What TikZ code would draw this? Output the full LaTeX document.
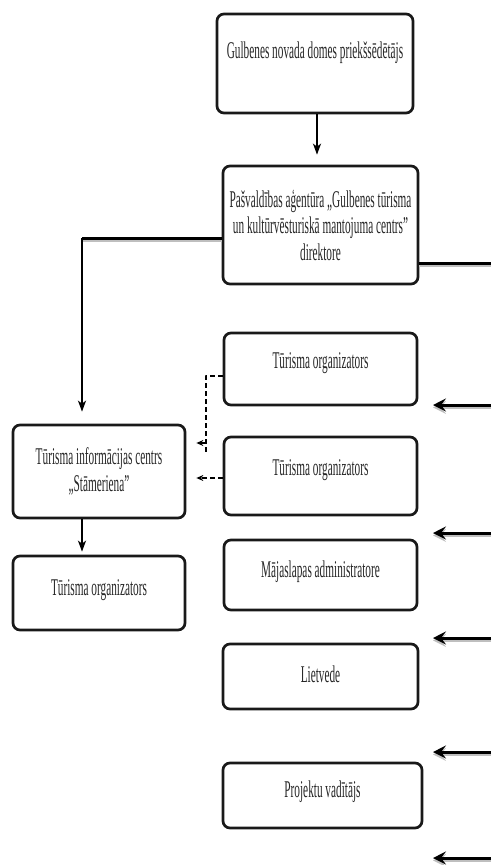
\documentclass[tikz,border=0pt]{standalone}
\usepackage{fontspec}
\setmainfont[FakeStretch=0.47]{Liberation Serif}
\usetikzlibrary{arrows.meta,calc}
\tikzset{
  box/.style={draw=black!90, rounded corners=7pt, line width=2.7pt, align=center, text=black!85,
    font=\fontsize{24}{26.5}\selectfont, inner sep=0pt},
  shad/.style={line width=3pt, line cap=butt,
    preaction={draw=gray!50, line width=3pt, transform canvas={yshift=-2.4pt}}},
  thin/.style={line width=1.7pt, -{Stealth[length=11pt,width=8pt,inset=3pt]}},
  dsh/.style={line width=1.2pt, dash pattern=on 5pt off 3pt}
}
\begin{document}
\begin{tikzpicture}[x=1pt, y=-1pt, line join=round]
  \useasboundingbox (0,0) rectangle (491,865);
  % amati
  \node[box, minimum width=196, minimum height=99, text height=16, text depth=26] (pred) at (315,63.5)
    {Gulbenes novada domes priekšsēdētājs};
  \node[box, minimum width=195, minimum height=118] (dir) at (320.5,225)
    {Pašvaldības aģentūra „Gulbenes tūrisma\\un kultūrvēsturiskā mantojuma centrs”\\direktore};
  \node[box, minimum width=193, minimum height=72, text height=16, text depth=18] (orgA) at (320.5,369)
    {Tūrisma organizators};
  \node[box, minimum width=193, minimum height=78, text height=16, text depth=18] (orgB) at (320.5,476)
    {Tūrisma organizators};
  \node[box, minimum width=193, minimum height=70, text height=16, text depth=12] (adm) at (320.5,575)
    {Mājaslapas administratore};
  \node[box, minimum width=195, minimum height=65, text height=16, text depth=5] (liet) at (320.5,676.5)
    {Lietvede};
  \node[box, minimum width=199, minimum height=65, text height=16, text depth=13] (proj) at (322.5,795.5)
    {Projektu vadītājs};
  \node[box, minimum width=172, minimum height=93] (tic) at (99,471.5)
    {Tūrisma informācijas centrs\\„Stāmeriena”};
  \node[box, minimum width=172, minimum height=74, text height=16, text depth=12] (orgC) at (99,593)
    {Tūrisma organizators};

  % savienojumi
  \draw[thin, shorten >=10pt] ([xshift=2pt]pred.south) -- ([xshift=2pt]pred.south |- dir.north);
  \coordinate (lk) at (82,238);
  \draw[shad] ($(dir.west)+(0,13)$) -- (lk);
  \draw[thin, shorten >=12pt] (lk) -- (lk |- tic.north);
  \draw[thin, shorten >=3pt] ($(tic.south)+(-17,0)$) -- ($(orgC.north)+(-17,0)$);
  \coordinate (rk) at (491,263);
  \draw[shad] ($(dir.east)+(0,38)$) -- (rk);
  \foreach \y/\n in {405/1,533/2,638/3,752/4,858/5}{
    \coordinate (r\n) at (491,\y);
    \coordinate (t\n) at (433,\y);
    \draw[shad, -{Stealth[length=13pt,width=13pt,inset=5pt]}] (r\n) -- (t\n);
  }
  % punktētās līnijas
  \coordinate (dk) at (206,443);
  \coordinate (dB) at ($(orgB.west)+(0,2)$);
  \draw[dsh] ($(orgA.west)+(0,7)$) -| (206,455);
  \draw[dsh, -{Stealth[length=7pt,width=6pt]}, shorten >=10pt] (dk) -- (dk -| tic.east);
  \draw[dsh, -{Stealth[length=7pt,width=6pt]}, shorten >=10pt] (dB) -- (dB -| tic.east);
\end{tikzpicture}
\end{document}
